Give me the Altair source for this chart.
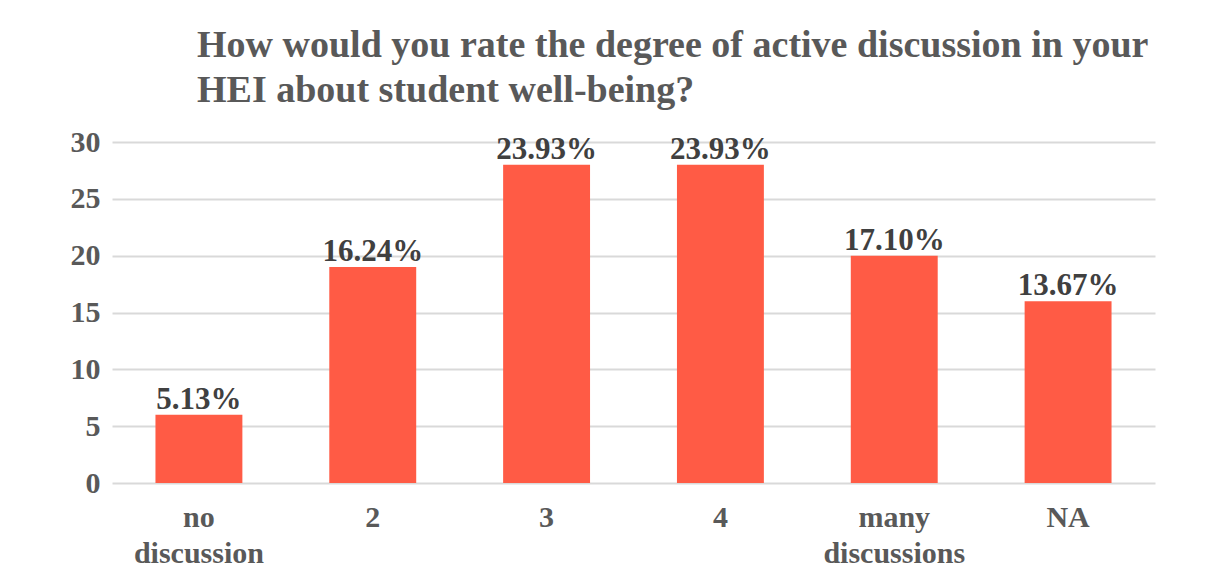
import altair as alt
import pandas as pd

categories = ["no discussion", "2", "3", "4", "many discussions", "NA"]
counts = [6, 19, 28, 28, 20, 16]
pct_labels = ["5.13%", "16.24%", "23.93%", "23.93%", "17.10%", "13.67%"]
y_ticks = [0, 5, 10, 15, 20, 25, 30]
title_lines = ["How would you rate the degree of active discussion in your",
               "HEI about student well-being?"]

df = pd.DataFrame({"cat": categories, "count": counts, "pct": pct_labels})

FONT = "Liberation Serif"
GRAY = "#595959"

x = alt.X("cat:N", sort=categories, title=None,
          scale=alt.Scale(paddingInner=0.5, paddingOuter=0.25),
          axis=alt.Axis(labelAngle=0, labelFont=FONT, labelFontSize=30,
                        labelFontWeight="bold", labelColor=GRAY,
                        labelExpr="split(datum.label, ' ')",
                        labelLineHeight=36, labelPadding=19,
                        ticks=False, domain=False, grid=False))
y = alt.Y("count:Q", title=None,
          scale=alt.Scale(domain=[0, 30], nice=False),
          axis=alt.Axis(values=y_ticks, labelFont=FONT, labelFontSize=30,
                        labelFontWeight="bold", labelColor=GRAY,
                        labelPadding=12, ticks=False, domain=False,
                        gridColor="#d9d9d9", gridWidth=2))

bars = alt.Chart(df).mark_bar(color="#FF5B45").encode(x=x, y=y)
labels = alt.Chart(df).mark_text(
    font=FONT, fontSize=31, fontWeight="bold", color="#404040",
    baseline="bottom", dy=1
).encode(x=alt.X("cat:N", sort=categories), y="count:Q", text="pct:N")

chart = (bars + labels).properties(
    width=1043, height=341,
    autosize=alt.AutoSizeParams(type="none"),
    padding={"left": 104, "top": 134, "right": 30, "bottom": 92},
    title=alt.TitleParams(text=title_lines, anchor="start", frame="group",
                          dx=85, offset=17, font=FONT, fontSize=38,
                          fontWeight="bold", color=GRAY, lineHeight=45),
).configure(background="white").configure_view(stroke=None)

chart.save("out.html", embed_options={"renderer": "svg", "actions": False})
